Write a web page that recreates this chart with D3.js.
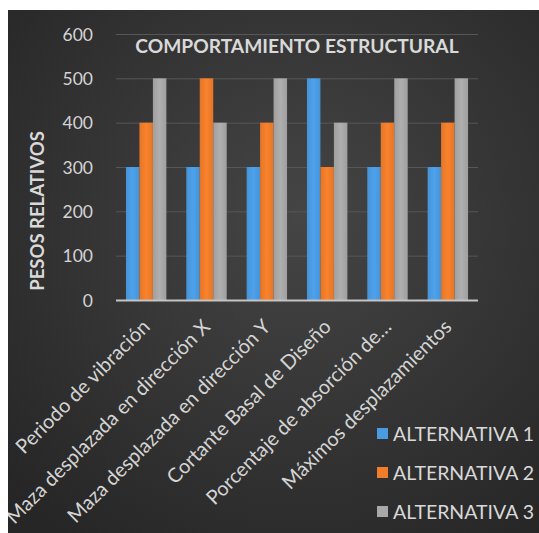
<!DOCTYPE html>
<html>
<head>
<meta charset="utf-8">
<script src="https://cdn.jsdelivr.net/npm/d3@7"></script>
<style>
  html, body { margin: 0; padding: 0; background: #ffffff; }
  svg { display: block; }
</style>
</head>
<body>
<svg id="chart" width="539" height="533"></svg>
<script>
const categories = [
  "Periodo de vibración",
  "Maza desplazada en dirección X",
  "Maza desplazada en dirección Y",
  "Cortante Basal de Diseño",
  "Porcentaje de absorción de…",
  "Máximos desplazamientos"
];
const seriesNames = ["ALTERNATIVA 1", "ALTERNATIVA 2", "ALTERNATIVA 3"];
const alternativa1 = [300, 300, 300, 500, 300, 300];
const alternativa2 = [400, 500, 400, 300, 400, 400];
const alternativa3 = [500, 400, 500, 400, 500, 500];
const yTicks = [0, 100, 200, 300, 400, 500, 600];
const chartTitle = "COMPORTAMIENTO ESTRUCTURAL";
const yTitle = "PESOS RELATIVOS";

const series = [alternativa1, alternativa2, alternativa3];
const colors = ["#4a9be2", "#f07d2a", "#a8a8a8"];

const W = 539, H = 533;
const svg = d3.select("#chart");
const defs = svg.append("defs");

const bg = defs.append("radialGradient").attr("id", "bg")
  .attr("cx", "55%").attr("cy", "40%").attr("r", "75%");
bg.append("stop").attr("offset", "0%").attr("stop-color", "#454545");
bg.append("stop").attr("offset", "100%").attr("stop-color", "#262626");

defs.append("clipPath").attr("id", "area").append("rect")
  .attr("x", 8).attr("y", 10).attr("width", W - 8).attr("height", H - 10);

colors.forEach((c, i) => {
  const g = defs.append("linearGradient").attr("id", "bar" + i)
    .attr("x1", "0%").attr("x2", "100%").attr("y1", "0%").attr("y2", "0%");
  const base = d3.color(c);
  g.append("stop").attr("offset", "0%").attr("stop-color", base.darker(0.15));
  g.append("stop").attr("offset", "50%").attr("stop-color", base.brighter(0.12));
  g.append("stop").attr("offset", "100%").attr("stop-color", base.darker(0.15));
});

const root = svg.append("g").attr("clip-path", "url(#area)");

root.append("rect").attr("x", 8).attr("y", 10).attr("width", W - 8).attr("height", H - 10)
  .attr("fill", "url(#bg)");

const plot = { left: 116, right: 478, top: 34, bottom: 300 };

const x0 = d3.scaleBand().domain(categories).range([plot.left, plot.right]).paddingInner(0.33).paddingOuter(0.165);
const x1 = d3.scaleBand().domain(d3.range(series.length)).range([0, x0.bandwidth()]);
const y = d3.scaleLinear().domain([0, 600]).range([plot.bottom, plot.top]);

const font = "Lato, 'Open Sans', sans-serif";

// gridlines
root.append("g").selectAll("line").data(yTicks.filter(d => d > 0)).join("line")
  .attr("x1", plot.left).attr("x2", plot.right)
  .attr("y1", d => y(d) + 0.5).attr("y2", d => y(d) + 0.5)
  .attr("stroke", "#575757").attr("stroke-width", 1);

// y axis labels
const yAxis = d3.axisLeft(y).tickValues(yTicks).tickSize(0).tickPadding(0);
const yg = root.append("g").attr("transform", `translate(93,0)`).call(yAxis);
yg.select(".domain").remove();
yg.selectAll("text").attr("font-family", font).attr("font-size", 17.5)
  .attr("fill", "#d4d4d4").attr("dy", "0.35em");

// bars
const groups = root.append("g").selectAll("g").data(categories).join("g")
  .attr("transform", d => `translate(${x0(d)},0)`);
groups.selectAll("rect").data((d, i) => series.map((s, k) => ({ k, v: s[i] }))).join("rect")
  .attr("x", d => x1(d.k)).attr("width", x1.bandwidth())
  .attr("y", d => y(d.v)).attr("height", d => y(0) - y(d.v))
  .attr("fill", d => `url(#bar${d.k})`);

// x axis line
root.append("line").attr("x1", plot.left).attr("x2", plot.right)
  .attr("y1", y(0) + 0.5).attr("y2", y(0) + 0.5)
  .attr("stroke", "#c4c4c4").attr("stroke-width", 2);

// x labels
const xAxis = d3.axisBottom(x0).tickSize(0).tickPadding(0);
const xg = root.append("g").attr("transform", `translate(0,${plot.bottom})`).call(xAxis);
xg.select(".domain").remove();
xg.selectAll(".tick text")
  .attr("font-family", font).attr("font-size", 20).attr("fill", "#d4d4d4")
  .attr("text-anchor", "end")
  .attr("x", 0).attr("y", 0).attr("dy", 0)
  .attr("transform", "translate(5,28) rotate(-45)");

// title
root.append("text").attr("x", (plot.left + plot.right) / 2).attr("y", 53)
  .attr("text-anchor", "middle").attr("font-family", font).attr("font-weight", "bold")
  .attr("font-size", 19.2).attr("fill", "#d9d9d9").text(chartTitle);

// y title
root.append("text").attr("transform", "translate(44,211) rotate(-90)")
  .attr("text-anchor", "middle").attr("font-family", font).attr("font-weight", "bold")
  .attr("font-size", 18.5).attr("fill", "#d9d9d9").text(yTitle);

// legend
const leg = root.append("g").selectAll("g").data(seriesNames).join("g")
  .attr("transform", (d, i) => `translate(377,${434 + i * 39})`);
leg.append("rect").attr("x", 0).attr("y", -6).attr("width", 11).attr("height", 11)
  .attr("fill", (d, i) => colors[i]);
leg.append("text").attr("x", 16).attr("y", 0).attr("dy", "0.35em")
  .attr("font-family", font).attr("font-size", 19.5).attr("fill", "#d9d9d9").text(d => d);
</script>
</body>
</html>
